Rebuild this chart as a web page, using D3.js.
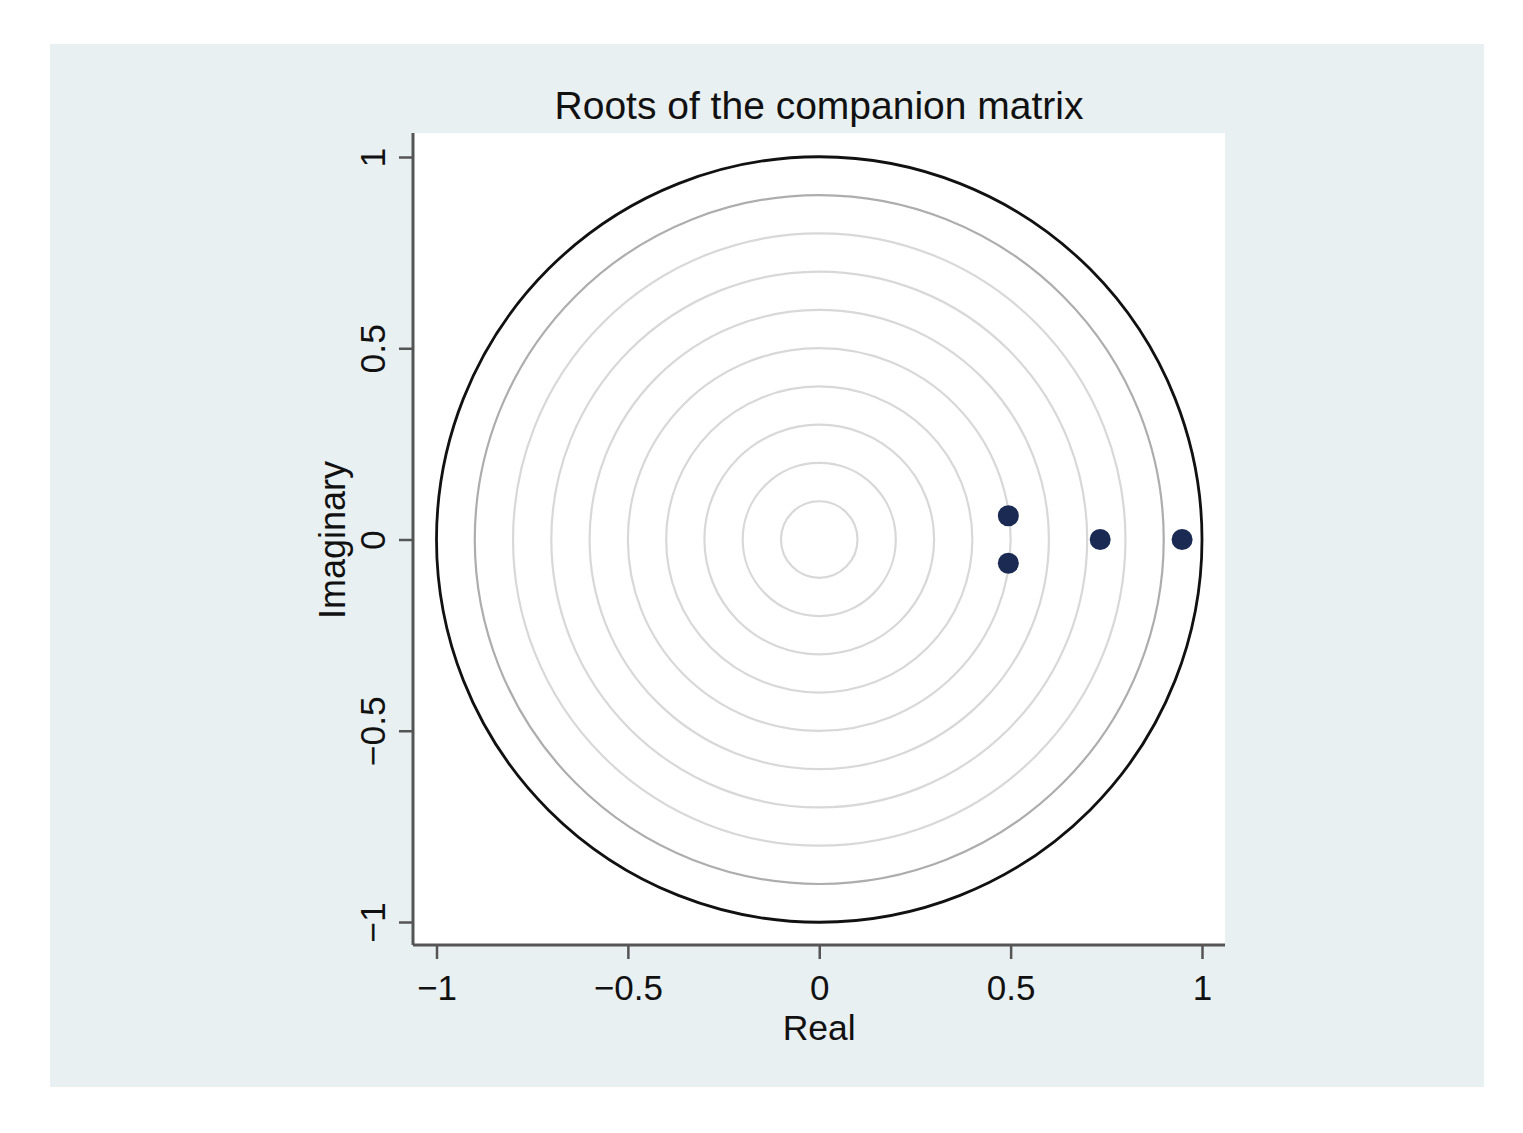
<!DOCTYPE html>
<html><head><meta charset="utf-8">
<script src="https://cdn.jsdelivr.net/npm/d3@7"></script>
<style>body{margin:0;background:#fff;} text{font-family:"Liberation Sans",Arial,sans-serif;fill:#111;}</style>
</head><body>
<svg id="c" width="1523" height="1133"></svg>
<script>
const title = "Roots of the companion matrix";
const xLabel = "Real";
const yLabel = "Imaginary";
const tickValues = [-1, -0.5, 0, 0.5, 1];
const tickLabels = ["\u22121", "\u22120.5", "0", "0.5", "1"];
const rootReal = [0.494, 0.494, 0.734, 0.948];
const rootImag = [0.062, -0.062, 0, 0];
const ringRadii = [0.1, 0.2, 0.3, 0.4, 0.5, 0.6, 0.7, 0.8, 0.9, 1.0];

const svg = d3.select("#c");
svg.append("rect").attr("x",50).attr("y",44).attr("width",1434).attr("height",1043).attr("fill","#e9f0f2");

const L=413, R=1225, T=133, B=945;
svg.append("rect").attr("x",L).attr("y",T).attr("width",R-L).attr("height",B-T).attr("fill","#fff");

const x = d3.scaleLinear().domain([-1,1]).range([436.5,1202]);
const y = d3.scaleLinear().domain([-1,1]).range([922,157]);

const g = svg.append("g");
g.selectAll("circle.ring").data(ringRadii).join("circle")
  .attr("class","ring")
  .attr("cx",x(0)).attr("cy",y(0))
  .attr("r",d=>x(d)-x(0))
  .attr("fill","none")
  .attr("stroke",d=>d===1?"#111":(Math.abs(d-0.9)<1e-9?"#adadad":"#d8d8d8"))
  .attr("stroke-width",d=>d===1?2.8:2.2);

g.selectAll("circle.pt").data(rootReal).join("circle")
  .attr("class","pt")
  .attr("cx",(d)=>x(d)).attr("cy",(d,i)=>y(rootImag[i]))
  .attr("r",10.5).attr("fill","#1a2a52");

// axes
const xAxis = d3.axisBottom(x).tickValues(tickValues).tickFormat((d,i)=>tickLabels[i]).tickSize(14).tickPadding(16).tickSizeOuter(0);
const xg = svg.append("g").attr("transform",`translate(0,${B})`).call(xAxis);
xg.select(".domain").remove();
xg.append("line").attr("x1",L).attr("x2",R).attr("stroke","#555").attr("stroke-width",3);
xg.selectAll(".tick line").attr("stroke","#555").attr("stroke-width",2.5);
xg.selectAll(".tick text").attr("font-size",35).attr("fill","#111").attr("dy","0.71em");

const yAxis = d3.axisLeft(y).tickValues(tickValues).tickFormat((d,i)=>tickLabels[i]).tickSize(14).tickPadding(0).tickSizeOuter(0);
const yg = svg.append("g").attr("transform",`translate(${L},0)`).call(yAxis);
yg.select(".domain").remove();
yg.append("line").attr("y1",T).attr("y2",B).attr("stroke","#555").attr("stroke-width",3);
yg.selectAll(".tick line").attr("stroke","#555").attr("stroke-width",2.5);
yg.selectAll(".tick text").attr("font-size",35.5).attr("fill","#111")
  .attr("x",null).attr("dy",null)
  .attr("text-anchor","middle")
  .attr("transform","translate(-28,0) rotate(-90)")
  .attr("y",0);

svg.append("text").attr("x",(L+R)/2).attr("y",119).attr("text-anchor","middle").attr("font-size",39).text(title);
svg.append("text").attr("x",x(0)).attr("y",1040).attr("text-anchor","middle").attr("font-size",35.5).text(xLabel);
svg.append("text").attr("transform",`translate(345,540) rotate(-90)`).attr("text-anchor","middle").attr("font-size",36).text(yLabel);
</script>
</body></html>
